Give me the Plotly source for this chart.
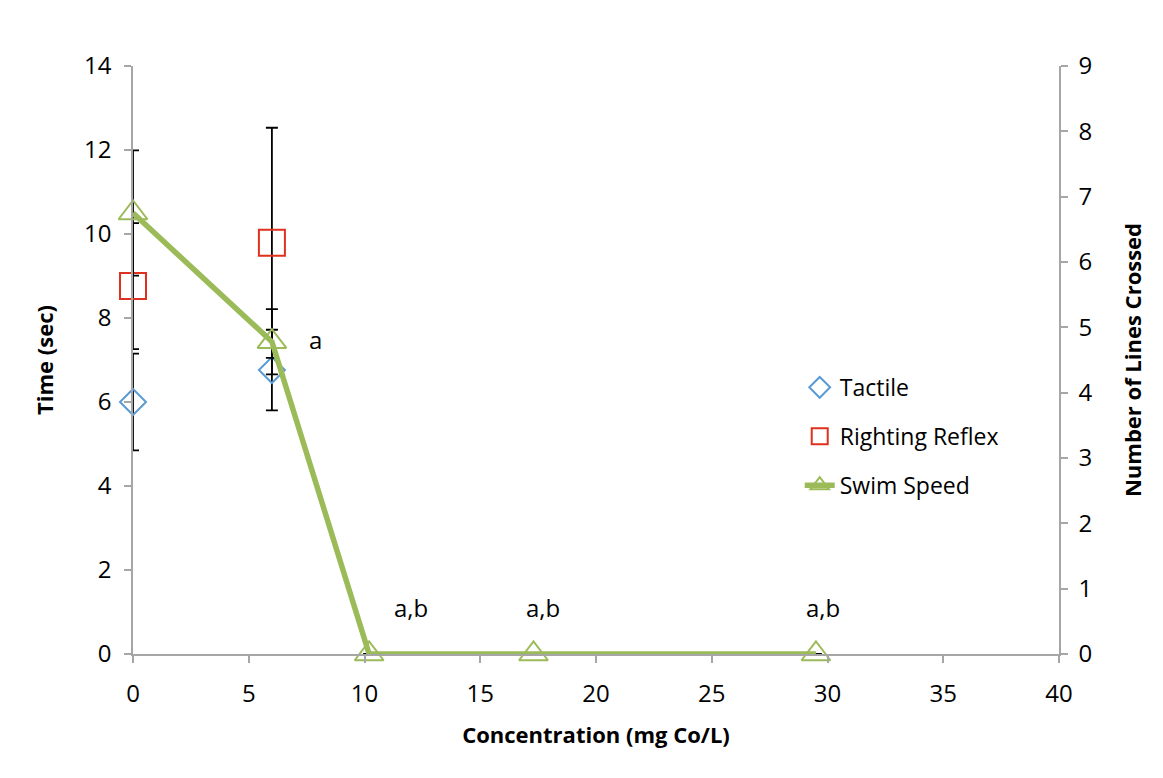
import plotly.graph_objects as go

# concentrazioni (mg Co/L)
conc = [0, 6, 10.2, 17.3, 29.5]

# tempi (sec) - asse sinistro
tactile = [6.0, 6.76]
tactile_err = [1.15, 0.96]
righting = [8.76, 9.79]
righting_err = [1.5, 2.74]

# linee attraversate - asse destro
swim = [6.75, 4.78, 0, 0, 0]
swim_err = [0.96, 0.5, 0, 0, 0]

letters = ["a", "a,b", "a,b", "a,b"]
letter_x = [7.9, 12.0, 17.7, 29.8]
letter_y = [7.5, 1.1, 1.1, 1.1]

FONT = "Open Sans"
AXIS_GREY = "#A6A6A6"

fig = go.Figure()

fig.add_trace(go.Scatter(
    x=conc[:2], y=tactile, name="Tactile", mode="markers", cliponaxis=False,
    marker=dict(symbol="diamond-open", size=20, color="#5B9BD5", line=dict(width=2)),
    error_y=dict(type="data", array=tactile_err, color="black", thickness=1.8, width=6),
    legendgroup="1",
))
fig.add_trace(go.Scatter(
    x=conc[:2], y=righting, name="Righting Reflex", mode="markers", cliponaxis=False,
    marker=dict(symbol="square-open", size=26, color="#E0301E", line=dict(width=2)),
    error_y=dict(type="data", array=righting_err, color="black", thickness=1.8, width=6),
    legendgroup="2",
))
fig.add_trace(go.Scatter(
    x=conc, y=swim, name="Swim Speed", mode="lines+markers", yaxis="y2", cliponaxis=False,
    line=dict(color="#9BBB59", width=5.5),
    marker=dict(symbol="triangle-up-open", size=25, color="#9BBB59", line=dict(width=2)),
    error_y=dict(type="data", array=swim_err, color="black", thickness=1.8, width=6),
    legendgroup="3",
))

for t, x, y in zip(letters, letter_x, letter_y):
    fig.add_annotation(x=x, y=y, text=t, showarrow=False,
                       font=dict(family=FONT, size=24, color="black"))

axis_common = dict(
    showgrid=False, zeroline=False, showline=True, linecolor=AXIS_GREY, linewidth=1.5,
    ticks="outside", ticklen=7, tickwidth=1.5, tickcolor=AXIS_GREY,
    tickfont=dict(family=FONT, size=24, color="black"),
)

fig.update_layout(
    width=1163, height=778,
    margin=dict(l=125, r=112, t=58, b=132),
    plot_bgcolor="white", paper_bgcolor="white",
    font=dict(family=FONT, color="black"),
    xaxis=dict(range=[0, 40], dtick=5, ticklabelstandoff=10, **axis_common,
               title=dict(text="<b>Concentration (mg Co/L)</b>",
                          font=dict(family=FONT, size=22), standoff=20)),
    yaxis=dict(range=[0, 14], dtick=2, ticklabelstandoff=8, **axis_common,
               title=dict(text="<b>Time (sec)</b>",
                          font=dict(family=FONT, size=22), standoff=24)),
    yaxis2=dict(range=[0, 9], dtick=1, overlaying="y", side="right",
                ticklabelstandoff=6, **axis_common,
                title=dict(text="<b>Number of Lines Crossed</b>",
                           font=dict(family=FONT, size=22), standoff=34)),
    legend=dict(x=0.72, y=0.49, xanchor="left", yanchor="top",
                font=dict(family=FONT, size=23), tracegroupgap=16,
                traceorder="grouped", bgcolor="rgba(0,0,0,0)"),
)

fig.write_html("out.html")
